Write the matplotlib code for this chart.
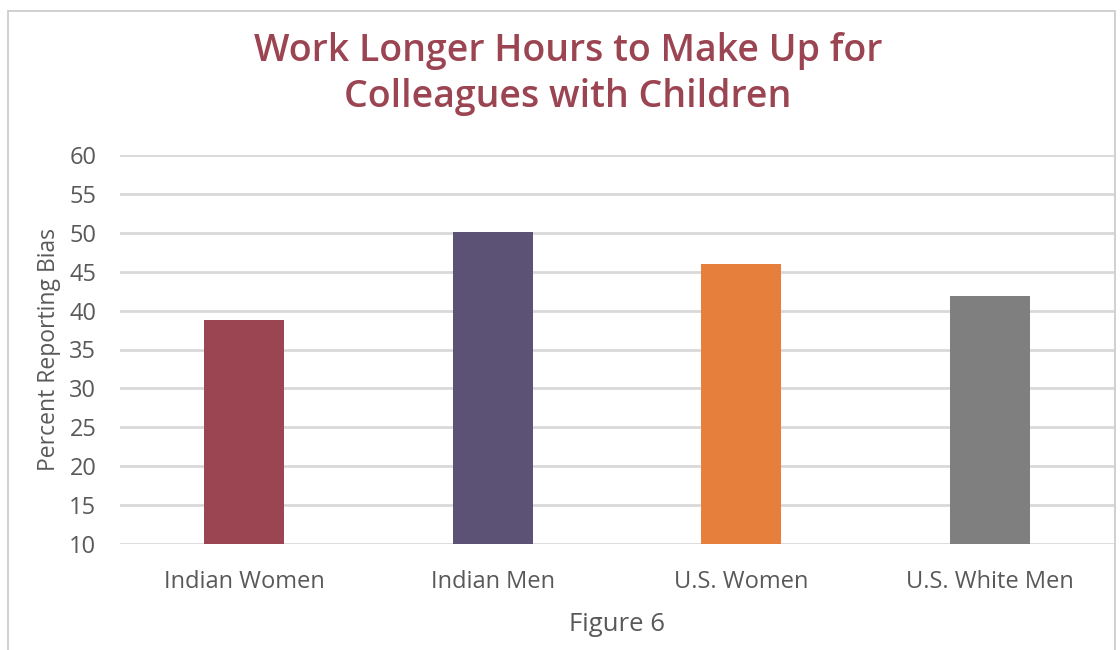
"""
Work Longer Hours to Make Up for Colleagues with Children - bar chart.
"""

import matplotlib
matplotlib.use('Agg')
import matplotlib.pyplot as plt
from matplotlib.patches import Rectangle

# 数据
groups = ['Indian Women', 'Indian Men', 'U.S. Women', 'U.S. White Men']
values = [38.8, 50.1, 46.0, 41.9]
colors = ['#9B4452', '#5B5275', '#E67E3C', '#7F7F7F']
yticks = [10, 15, 20, 25, 30, 35, 40, 45, 50, 55, 60]

plt.rcParams['font.family'] = ['Open Sans', 'DejaVu Sans']
text_color = '#595959'

fig = plt.figure(figsize=(11.2, 6.5), dpi=100)
ax = fig.add_axes([120 / 1120, 106 / 650, 994 / 1120, 389 / 650])

# 外框
fig.patches.append(Rectangle((8 / 1120, -0.01), 1107 / 1120, 639 / 650 + 0.01,
                             transform=fig.transFigure, fill=False,
                             edgecolor='#C8C8C8', linewidth=1.2))

x = range(len(groups))
ax.bar(x, [v - 10 for v in values], bottom=10, width=0.32, color=colors,
       zorder=3)

ax.set_xlim(-0.5, len(groups) - 0.5)
ax.set_ylim(10, 60)
ax.set_yticks(yticks)
ax.set_xticks(list(x))
ax.set_xticklabels(groups)
ax.yaxis.grid(True, color='#D9D9D9', linewidth=2, zorder=0)
ax.set_axisbelow(True)
for s in ax.spines.values():
    s.set_visible(False)
ax.tick_params(axis='both', length=0, colors=text_color, labelsize=17)
ax.tick_params(axis='x', pad=19)
ax.tick_params(axis='y', pad=17)

ax.set_ylabel('Percent Reporting Bias', fontsize=16.5, color=text_color,
              labelpad=6)
ax.set_xlabel('Figure 6', fontsize=18.5, color=text_color, labelpad=13)

fig.text(568 / 1120, 1 - 74 / 650,
         'Work Longer Hours to Make Up for\nColleagues with Children',
         ha='center', va='center', fontsize=27, fontweight='semibold',
         color='#9B4452', linespacing=1.25)

fig.savefig('out.png', dpi=100)
